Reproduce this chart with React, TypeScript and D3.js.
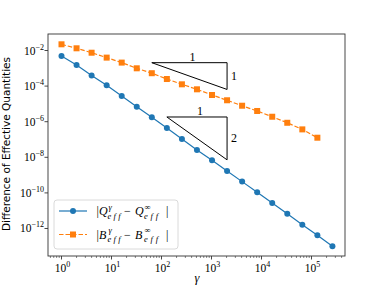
import React from "react";
import * as d3 from "d3";

const gammaQ = [1, 2, 4, 8, 16, 32, 64, 128, 256, 512, 1024, 2048, 4096, 8192, 16384, 32768, 65536, 131072, 262144];
const diffQ = [4.9e-3, 1.53e-3, 4.0e-4, 1.1e-4, 2.8e-5, 7.0e-6, 1.77e-6, 4.4e-7, 1.07e-7, 2.6e-8, 6.8e-9, 1.7e-9, 4.3e-10, 1.08e-10, 2.7e-11, 6.8e-12, 1.63e-12, 4.2e-13, 1.0e-13];
const gammaB = [1, 2, 4, 8, 16, 32, 64, 128, 256, 512, 1024, 2048, 4096, 8192, 16384, 32768, 65536, 131072];
const diffB = [2.23e-2, 1.33e-2, 7.5e-3, 3.98e-3, 2.09e-3, 1.0e-3, 5.3e-4, 2.5e-4, 1.26e-4, 6.6e-5, 3.16e-5, 1.6e-5, 7.9e-6, 4.0e-6, 1.9e-6, 8.7e-7, 3.7e-7, 1.26e-7];
const xTickExps = [0, 1, 2, 3, 4, 5];
const yTickExps = [-2, -4, -6, -8, -10, -12];
const triX0 = [64, 128];
const triX1 = [2048, 2048];
const triTop = [2.07e-3, 1.84e-6];
const triSlope = [1, 2];
const legendLetters = ["Q", "B"];

const BLUE = "#1f77b4";
const ORANGE = "#ff7f0e";
const MATH = "'Liberation Serif', 'DejaVu Serif', serif";

const L = 48, R = 345, T = 34, B = 256;

function MathLabel({ letter, yy }: { letter: string; yy: number }) {
  const fs = 12;
  const ss = 8.5;
  const common = { fontFamily: MATH, fill: "#000" } as const;
  return (
    <g>
      <text x={96.5} y={yy} fontSize={fs} {...common}>|</text>
      <text x={99} y={yy} fontSize={fs} fontStyle="italic" {...common}>{letter}</text>
      <text x={108.5} y={yy - 5.5} fontSize={ss} fontStyle="italic" {...common}>γ</text>
      <text x={107.5} y={yy + 3.5} fontSize={ss} fontStyle="italic" textLength={13} lengthAdjust="spacing" {...common}>eff</text>
      <text x={124} y={yy} fontSize={fs} {...common}>−</text>
      <text x={135} y={yy} fontSize={fs} fontStyle="italic" {...common}>{letter}</text>
      <text x={144.5} y={yy - 5.5} fontSize={ss} {...common}>∞</text>
      <text x={144} y={yy + 3.5} fontSize={ss} fontStyle="italic" textLength={14} lengthAdjust="spacing" {...common}>eff</text>
      <text x={166} y={yy} fontSize={fs} {...common}>|</text>
    </g>
  );
}

export default function App() {
  const x = d3.scaleLog().domain([Math.pow(10, -0.27), Math.pow(10, 5.67)]).range([L, R]);
  const y = d3.scaleLog().domain([Math.pow(10, -13.545), Math.pow(10, -1.073)]).range([B, T]);
  const line = d3.line<[number, number]>().x(d => x(d[0])).y(d => y(d[1]));
  const qPts: [number, number][] = gammaQ.map((g, i) => [g, diffQ[i]]);
  const bPts: [number, number][] = gammaB.map((g, i) => [g, diffB[i]]);

  const minor: number[] = [];
  for (let e = -1; e <= 5; e++) for (let m = 2; m <= 9; m++) {
    const v = m * Math.pow(10, e);
    if (x(v) >= L && x(v) <= R) minor.push(v);
  }

  return (
    <svg width={384} height={288} style={{ position: "absolute", left: 0, top: 0, background: "#fff" }}>
      <rect x={0} y={0} width={384} height={288} fill="#fff" />
      <path d={line(qPts) || ""} fill="none" stroke={BLUE} strokeWidth={1.2} />
      {qPts.map((p, i) => <circle key={"q" + i} cx={x(p[0])} cy={y(p[1])} r={3} fill={BLUE} />)}
      <path d={line(bPts) || ""} fill="none" stroke={ORANGE} strokeWidth={1.2} strokeDasharray="4.5,2" />
      {bPts.map((p, i) => <rect key={"b" + i} x={x(p[0]) - 3} y={y(p[1]) - 3} width={6} height={6} fill={ORANGE} />)}
      {triX0.map((x0, i) => {
        const x1 = triX1[i];
        const yt = triTop[i];
        const yb = yt * Math.pow(x0 / x1, triSlope[i]);
        const pts = [[x0, yt], [x1, yt], [x1, yb], [x0, yt]].map(p => `${x(p[0])},${y(p[1])}`).join(" ");
        return (
          <g key={"t" + i}>
            <polyline points={pts} fill="none" stroke="#000" strokeWidth={1} />
            <text x={(x(x0) + x(x1)) / 2 + 3} y={y(yt) - 1.5} textAnchor="middle" fontFamily={MATH} fontSize={12}>1</text>
            <text x={x(x1) + 4} y={(y(yt) + y(yb)) / 2 + 4} fontFamily={MATH} fontSize={12}>{String(triSlope[i])}</text>
          </g>
        );
      })}
      <rect x={L} y={T} width={R - L} height={B - T} fill="none" stroke="#333" strokeWidth={0.9} />
      {xTickExps.map(e => {
        const px = x(Math.pow(10, e));
        return (
          <g key={"xt" + e}>
            <line x1={px} x2={px} y1={B} y2={B + 3.5} stroke="#333" strokeWidth={0.9} />
            <text x={px + 1} y={B + 15.5} textAnchor="middle" fontFamily={MATH} fontSize={11.5}>
              10<tspan fontSize={8} dy={-5}>{String(e)}</tspan>
            </text>
          </g>
        );
      })}
      {minor.map((v, i) => (
        <line key={"mx" + i} x1={x(v)} x2={x(v)} y1={B} y2={B + 2} stroke="#333" strokeWidth={0.6} />
      ))}
      {yTickExps.map(e => {
        const py = y(Math.pow(10, e));
        return (
          <g key={"yt" + e}>
            <line x1={L - 3.5} x2={L} y1={py} y2={py} stroke="#333" strokeWidth={0.9} />
            <text x={L - 4} y={py + 4} textAnchor="end" fontFamily={MATH} fontSize={11.5}>
              10<tspan fontSize={8} dy={-5}>{"−" + String(-e)}</tspan>
            </text>
          </g>
        );
      })}
      <text x={197} y={282} textAnchor="middle" fontFamily={MATH} fontStyle="italic" fontSize={12.5}>γ</text>
      <text transform={`translate(10,144) rotate(-90)`} textAnchor="middle" fontFamily="'DejaVu Sans', sans-serif" fontSize={10.5}>Difference of Effective Quantities</text>
      <rect x={54} y={200} width={124} height={49} rx={3} fill="#fff" fillOpacity={0.8} stroke="#d0d0d0" strokeWidth={0.8} />
      <line x1={59} x2={87} y1={211} y2={211} stroke={BLUE} strokeWidth={1.2} />
      <circle cx={73} cy={211} r={3} fill={BLUE} />
      <line x1={59} x2={87} y1={234.5} y2={234.5} stroke={ORANGE} strokeWidth={1.2} strokeDasharray="4.5,2" />
      <rect x={70} y={231.5} width={6} height={6} fill={ORANGE} />
      <MathLabel letter={legendLetters[0]} yy={215} />
      <MathLabel letter={legendLetters[1]} yy={238.5} />
    </svg>
  );
}
